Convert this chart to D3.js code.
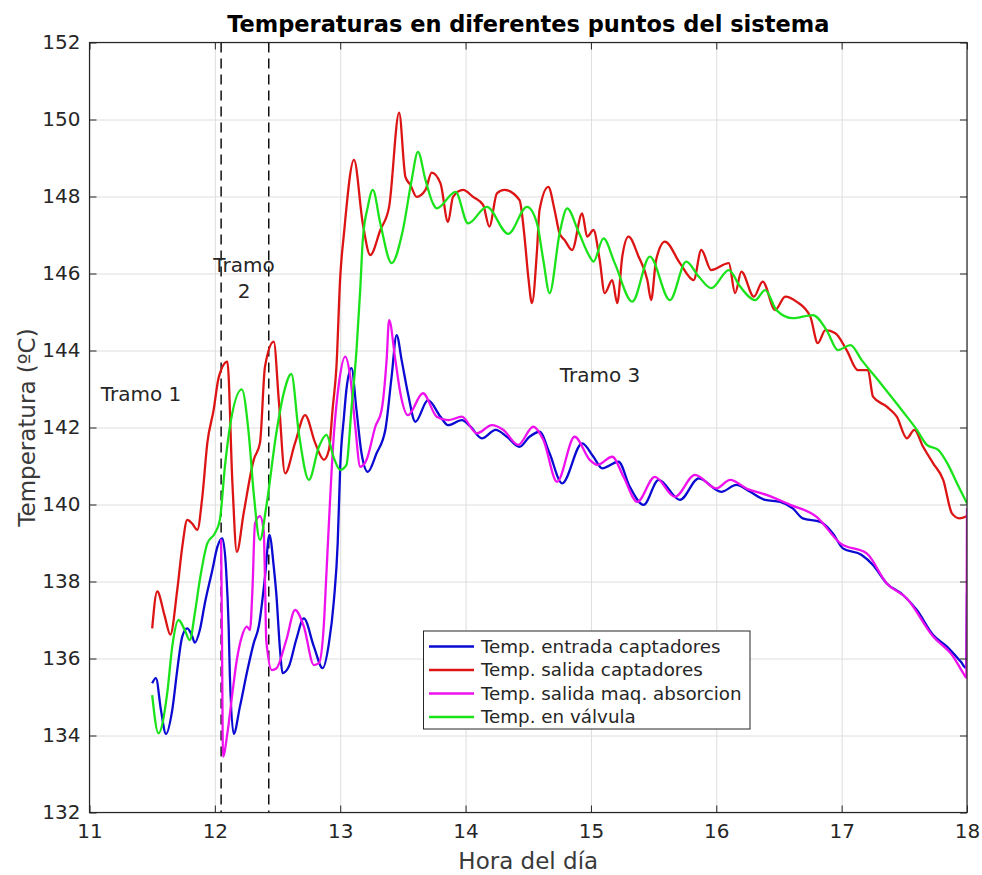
<!DOCTYPE html>
<html>
<head>
<meta charset="utf-8">
<script src="https://cdn.jsdelivr.net/npm/d3@7"></script>
<style>
  html, body { margin: 0; padding: 0; background: #fff; }
  svg { display: block; font-family: "DejaVu Sans", sans-serif; }
</style>
</head>
<body>
<svg id="chart" width="982" height="875"></svg>
<script>
// ---------------- DATA ----------------
const xTicks = [11, 12, 13, 14, 15, 16, 17, 18];
const yTicks = [132, 134, 136, 138, 140, 142, 144, 146, 148, 150, 152];
const tramoLimits = [12.05, 12.43];
const seriesNames = ["Temp. entrada captadores", "Temp. salida captadores", "Temp. salida maq. absorcion", "Temp. en válvula"];

// [hour, temperature]
const entradaCaptadores = [[11.50,135.36],[11.53,135.49],[11.57,134.66],[11.61,134.04],[11.66,134.66],[11.70,135.70],[11.74,136.57],[11.78,136.78],[11.82,136.57],[11.84,136.41],[11.88,136.74],[11.92,137.43],[11.98,138.30],[12.02,138.9],[12.06,139.12],[12.09,138.3],[12.11,136.83],[12.12,135.53],[12.15,134.04],[12.20,134.75],[12.26,135.70],[12.31,136.40],[12.35,136.83],[12.40,138.12],[12.435,139.21],[12.47,138.38],[12.49,137.69],[12.52,136.22],[12.54,135.62],[12.59,135.79],[12.65,136.5],[12.71,137.04],[12.79,136.31],[12.86,135.75],[12.91,136.40],[12.95,137.52],[12.98,139.0],[13.0,140.98],[13.03,142.28],[13.05,143.0],[13.09,143.54],[13.13,142.45],[13.17,141.33],[13.22,140.85],[13.29,141.33],[13.36,141.94],[13.41,143.32],[13.45,144.40],[13.49,143.75],[13.54,142.89],[13.60,142.15],[13.70,142.71],[13.80,142.28],[13.86,142.06],[13.97,142.19],[14.04,142.02],[14.13,141.72],[14.24,141.94],[14.33,141.76],[14.43,141.50],[14.51,141.76],[14.59,141.89],[14.67,141.33],[14.77,140.55],[14.93,141.59],[15.02,141.24],[15.09,140.94],[15.22,141.11],[15.31,140.46],[15.42,139.99],[15.54,140.64],[15.71,140.12],[15.86,140.68],[16.04,140.33],[16.16,140.51],[16.27,140.33],[16.39,140.12],[16.51,140.07],[16.61,139.90],[16.69,139.64],[16.83,139.55],[16.93,139.25],[17.01,138.86],[17.16,138.69],[17.25,138.43],[17.36,137.95],[17.49,137.65],[17.60,137.26],[17.73,136.61],[17.84,136.31],[17.95,135.92],[17.995,135.75],[18.0,137.7]];

const salidaCaptadores = [[11.50,136.78],[11.54,137.74],[11.60,137.1],[11.645,136.62],[11.70,137.78],[11.74,138.9],[11.78,139.6],[11.82,139.5],[11.86,139.34],[11.90,140.2],[11.94,141.6],[11.99,142.45],[12.03,143.29],[12.10,143.71],[12.14,140.56],[12.175,138.77],[12.23,139.78],[12.31,141.16],[12.36,141.6],[12.40,143.58],[12.47,144.23],[12.51,142.71],[12.56,140.81],[12.64,141.6],[12.72,142.32],[12.80,141.6],[12.87,141.16],[12.91,141.42],[12.94,142.5],[12.97,143.58],[13.0,145.9],[13.03,147.04],[13.11,148.95],[13.18,147.30],[13.24,146.48],[13.32,147.13],[13.39,147.73],[13.47,150.18],[13.52,148.51],[13.56,148.30],[13.61,147.99],[13.68,148.17],[13.73,148.62],[13.80,148.34],[13.86,147.34],[13.90,147.99],[13.98,148.17],[14.06,147.99],[14.14,147.78],[14.19,147.22],[14.25,148.08],[14.31,148.17],[14.43,147.91],[14.47,146.96],[14.50,145.92],[14.53,145.23],[14.57,146.61],[14.59,147.65],[14.66,148.25],[14.71,147.65],[14.75,147.04],[14.79,146.87],[14.85,146.61],[14.93,147.56],[14.97,146.96],[15.02,147.13],[15.07,146.35],[15.11,145.49],[15.17,145.83],[15.21,145.23],[15.25,146.44],[15.30,146.96],[15.38,146.44],[15.45,145.83],[15.48,145.31],[15.52,146.35],[15.59,146.83],[15.71,146.27],[15.82,145.83],[15.88,146.61],[15.96,146.09],[16.10,146.27],[16.15,145.49],[16.20,146.05],[16.30,145.40],[16.37,145.79],[16.47,145.05],[16.55,145.40],[16.64,145.27],[16.75,144.88],[16.81,144.19],[16.87,144.53],[16.95,144.45],[17.04,144.01],[17.13,143.49],[17.21,143.49],[17.25,142.80],[17.36,142.54],[17.44,142.28],[17.52,141.72],[17.58,141.94],[17.65,141.50],[17.73,141.07],[17.81,140.64],[17.88,139.77],[17.94,139.64],[18.0,139.7]];

const salidaAbsorcion = [[12.05,139.1],[12.057,136.5],[12.065,133.45],[12.10,134.06],[12.14,135.10],[12.175,135.96],[12.215,136.57],[12.255,136.83],[12.28,136.74],[12.30,137.8],[12.32,139.5],[12.36,139.7],[12.39,139.3],[12.40,138.04],[12.41,136.48],[12.455,135.70],[12.49,135.74],[12.57,136.48],[12.64,137.26],[12.71,136.83],[12.79,135.83],[12.83,135.88],[12.87,136.91],[12.89,138.21],[12.95,141.85],[12.99,143.15],[13.04,143.84],[13.08,143.32],[13.12,142.02],[13.16,140.98],[13.21,141.16],[13.28,142.02],[13.33,142.45],[13.37,143.75],[13.39,144.79],[13.44,143.75],[13.48,142.89],[13.54,142.32],[13.66,142.89],[13.77,142.28],[13.86,142.19],[13.97,142.28],[14.09,141.85],[14.21,142.06],[14.30,141.94],[14.42,141.55],[14.54,142.02],[14.62,141.68],[14.73,140.59],[14.87,141.76],[14.99,141.16],[15.05,141.03],[15.17,141.24],[15.26,140.72],[15.37,140.07],[15.51,140.72],[15.67,140.20],[15.83,140.77],[16.0,140.42],[16.11,140.64],[16.25,140.4],[16.40,140.25],[16.59,139.99],[16.80,139.68],[16.99,138.99],[17.20,138.73],[17.36,137.95],[17.52,137.56],[17.73,136.57],[17.89,136.05],[17.97,135.62],[17.995,135.5],[18.0,139.9]];

const enValvula = [[11.50,135.05],[11.55,134.06],[11.62,135.1],[11.66,136.31],[11.71,137.0],[11.76,136.74],[11.80,136.48],[11.84,137.17],[11.88,138.04],[11.94,138.99],[12.0,139.25],[12.04,139.60],[12.08,140.98],[12.12,142.02],[12.215,142.99],[12.27,141.85],[12.31,140.29],[12.36,139.08],[12.41,139.94],[12.49,141.85],[12.55,142.9],[12.61,143.39],[12.67,141.85],[12.75,140.64],[12.83,141.50],[12.89,141.81],[12.95,141.2],[13.0,140.90],[13.05,141.03],[13.09,142.5],[13.13,144.01],[13.16,145.6],[13.18,146.87],[13.22,147.73],[13.26,148.17],[13.32,147.30],[13.41,146.27],[13.50,147.13],[13.57,148.43],[13.62,149.16],[13.68,148.43],[13.74,147.82],[13.77,147.69],[13.92,148.12],[14.02,147.30],[14.17,147.73],[14.34,147.03],[14.49,147.73],[14.57,147.30],[14.62,146.35],[14.67,145.49],[14.75,147.04],[14.81,147.69],[14.90,147.09],[14.99,146.44],[15.02,146.31],[15.10,146.91],[15.19,146.27],[15.33,145.27],[15.47,146.44],[15.63,145.31],[15.76,146.31],[15.86,145.92],[15.96,145.62],[16.10,146.09],[16.19,145.66],[16.31,145.31],[16.39,145.57],[16.48,145.05],[16.61,144.84],[16.77,144.92],[16.88,144.53],[16.97,144.01],[17.07,144.14],[17.16,143.75],[17.31,143.15],[17.49,142.41],[17.60,141.94],[17.68,141.55],[17.77,141.42],[17.85,141.03],[17.92,140.55],[18.0,140.03]];

const seriesData = [entradaCaptadores, salidaCaptadores, salidaAbsorcion, enValvula];
const seriesColors = ["#0a0ad2", "#dc1414", "#ee11ee", "#1be31b"];

// ---------------- LAYOUT ----------------
const L = 89.5, R = 967, T = 42.5, B = 812.5;
const svg = d3.select("#chart");
const x = d3.scaleLinear().domain([11, 18]).range([L, R]);
const y = d3.scaleLinear().domain([132, 152]).range([B, T]);
const axisColor = "#262626";

// grid
const grid = svg.append("g");
grid.append("g").attr("transform", `translate(0,${B})`)
  .call(d3.axisBottom(x).tickValues(xTicks).tickSize(-(B - T)).tickFormat(""))
  .call(g => g.select(".domain").remove())
  .call(g => g.selectAll("line").attr("stroke", "#dedede").attr("stroke-width", 1));
grid.append("g").attr("transform", `translate(${L},0)`)
  .call(d3.axisLeft(y).tickValues(yTicks).tickSize(-(R - L)).tickFormat(""))
  .call(g => g.select(".domain").remove())
  .call(g => g.selectAll("line").attr("stroke", "#dedede").attr("stroke-width", 1));

// clip
svg.append("clipPath").attr("id", "clip").append("rect")
  .attr("x", L).attr("y", T).attr("width", R - L).attr("height", B - T);

// tramo dashed lines
svg.append("g").selectAll("line").data(tramoLimits).join("line")
  .attr("x1", d => x(d)).attr("x2", d => x(d))
  .attr("y1", T).attr("y2", B)
  .attr("stroke", "#111").attr("stroke-width", 1.5)
  .attr("stroke-dasharray", "10,6");

// series
const line = d3.line().x(d => x(d[0])).y(d => y(d[1])).curve(d3.curveMonotoneX);
svg.append("g").attr("clip-path", "url(#clip)")
  .selectAll("path").data(seriesData).join("path")
  .attr("d", line)
  .attr("fill", "none")
  .attr("stroke", (d, i) => seriesColors[i])
  .attr("stroke-width", 2.3)
  .attr("stroke-linejoin", "round");

// axes with inward ticks
const tickLen = 7;
const styleAxis = g => {
  g.select(".domain").remove();
  g.selectAll("line").attr("stroke", axisColor);
  g.selectAll("text").attr("fill", axisColor).attr("font-size", 20)
    .attr("font-family", "DejaVu Sans, sans-serif");
};
svg.append("g").attr("transform", `translate(0,${B})`)
  .call(d3.axisBottom(x).tickValues(xTicks).tickSize(-tickLen).tickPadding(11).tickFormat(d3.format("d")))
  .call(styleAxis);
svg.append("g").attr("transform", `translate(0,${T})`)
  .call(d3.axisTop(x).tickValues(xTicks).tickSize(-tickLen).tickFormat(""))
  .call(styleAxis);
svg.append("g").attr("transform", `translate(${L},0)`)
  .call(d3.axisLeft(y).tickValues(yTicks).tickSize(-tickLen).tickPadding(9).tickFormat(d3.format("d")))
  .call(styleAxis);
svg.append("g").attr("transform", `translate(${R},0)`)
  .call(d3.axisRight(y).tickValues(yTicks).tickSize(-tickLen).tickFormat(""))
  .call(styleAxis);

svg.append("rect").attr("x", L).attr("y", T).attr("width", R - L).attr("height", B - T)
  .attr("fill", "none").attr("stroke", axisColor).attr("stroke-width", 1.2);

// annotations
const ann = svg.append("g").attr("fill", axisColor).attr("font-size", 20).attr("text-anchor", "middle");
ann.append("text").attr("x", 141).attr("y", 401).text("Tramo 1");
ann.append("text").attr("x", 244).attr("y", 272).text("Tramo");
ann.append("text").attr("x", 244).attr("y", 298).text("2");
ann.append("text").attr("x", 600).attr("y", 382).text("Tramo 3");

// legend
const lg = svg.append("g");
lg.append("rect").attr("x", 423.5).attr("y", 631).attr("width", 326.5).attr("height", 98)
  .attr("fill", "#fff").attr("stroke", axisColor).attr("stroke-width", 1);
seriesNames.forEach((name, i) => {
  const yy = 646.5 + i * 23.5;
  lg.append("line").attr("x1", 429).attr("x2", 474).attr("y1", yy).attr("y2", yy)
    .attr("stroke", seriesColors[i]).attr("stroke-width", 2.5);
  lg.append("text").attr("x", 481).attr("y", yy).attr("dy", "0.35em")
    .attr("font-size", 18.3).attr("fill", axisColor).text(name);
});

// title & labels
svg.append("text").attr("x", (L + R) / 2).attr("y", 32).attr("text-anchor", "middle")
  .attr("font-size", 22.5).attr("font-weight", "bold").attr("fill", "#000")
  .text("Temperaturas en diferentes puntos del sistema");
svg.append("text").attr("x", (L + R) / 2).attr("y", 869).attr("text-anchor", "middle")
  .attr("font-size", 23).attr("fill", "#3a3a3a").text("Hora del día");
svg.append("text").attr("transform", `translate(35,${(T + B) / 2}) rotate(-90)`)
  .attr("text-anchor", "middle").attr("font-size", 23).attr("fill", "#3a3a3a")
  .text("Temperatura (ºC)");
</script>
</body>
</html>
